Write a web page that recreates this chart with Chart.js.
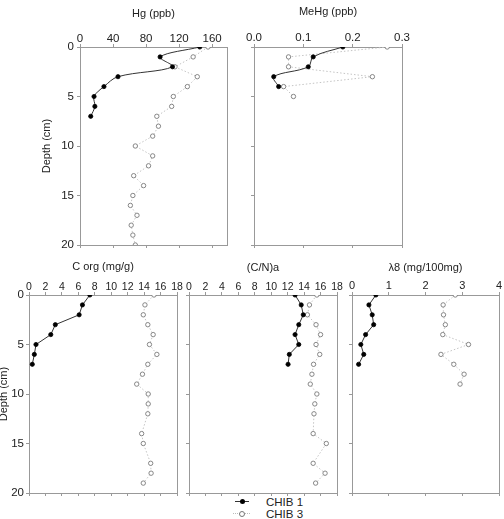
<!DOCTYPE html>
<html>
<head>
<meta charset="utf-8">
<script src="https://cdn.jsdelivr.net/npm/chart.js@4/dist/chart.umd.min.js"></script>
<style>
  body { margin: 0; background: #fff; }
  #wrap { position: relative; width: 504px; height: 519px; overflow: hidden; font-family: 'Liberation Sans', Arial, sans-serif; color: #222; }
  #wrap canvas { position: absolute; }
  .leg { position: absolute; }
  .leg-text { position: absolute; left: 266px; font-size: 11.5px; line-height: 12px; }
</style>
</head>
<body>
<div id="wrap">
  <div class="leg" style="left:235px;top:501px;width:14px;height:0;border-top:1px solid #333"></div>
  <div class="leg" style="left:240px;top:499px;width:5px;height:5px;border-radius:50%;background:#000"></div>
  <div class="leg-text" style="top:496px">CHIB 1</div>
  <div class="leg" style="left:233px;top:513px;width:17px;height:0;border-top:1px dotted #bbb"></div>
  <div class="leg" style="left:239px;top:511px;width:4px;height:4px;border-radius:50%;background:#fff;border:1px solid #777"></div>
  <div class="leg-text" style="top:508px">CHIB 3</div>
</div>
<script>
// depths (cm)
const depthChib1 = [0, 1, 2, 3, 4, 5, 6, 7];
const depthChib3 = [0, 1, 2, 3, 4, 5, 6, 7, 8, 9, 10, 11, 12, 13, 14, 15, 16, 17, 18, 19, 20];
const depthMeHg1 = [0, 1, 2, 3, 4];
const depthMeHg3 = [0, 1, 2, 3, 4, 5];
const depthOrg3 = [0, 1, 2, 3, 4, 5, 6, 7, 8, 9, 10, 11, 12, 14, 15, 17, 18, 19];
const depthLambda3 = [0, 1, 2, 3, 4, 5, 6, 7, 8, 9];

// Hg (ppb)
const hgChib1 = [145, 97, 112, 46, 29, 17, 18, 13];
const hgChib3 = [155, 137, 115, 142, 130, 113, 111, 93, 95, 88, 67, 88, 83, 65, 77, 64, 61, 69, 62, 64, 67];
// MeHg (ppb)
const meHgChib1 = [0.18, 0.12, 0.11, 0.04, 0.05];
const meHgChib3 = [0.27, 0.07, 0.07, 0.24, 0.06, 0.08];
// C org (mg/g)
const corgChib1 = [7.4, 6.5, 6.1, 3.2, 2.65, 0.85, 0.65, 0.4];
const corgChib3 = [15.2, 14.1, 13.9, 14.45, 15.1, 14.65, 15.55, 14.45, 13.8, 13.1, 14.5, 14.5, 14.45, 13.7, 13.9, 14.8, 14.85, 13.9];
// (C/N)a
const cnChib1 = [12.9, 13.65, 13.9, 13.35, 12.9, 13.35, 12.2, 12.05];
const cnChib3 = [15.55, 14.65, 14.4, 15.45, 16.0, 15.45, 15.9, 15.15, 14.95, 14.75, 15.55, 15.3, 15.2, 15.1, 16.7, 15.1, 16.55, 15.4];
// lambda 8 (mg/100mg)
const lambdaChib1 = [0.65, 0.46, 0.55, 0.59, 0.37, 0.24, 0.32, 0.18];
const lambdaChib3 = [2.81, 2.48, 2.49, 2.54, 2.47, 3.17, 2.42, 2.77, 3.05, 2.94];

const AXIS = '#999';
const INK = '#222';
const FONT = "'Liberation Sans', Arial, sans-serif";
const wrap = document.getElementById('wrap');

function pts(xs, depths) {
  return xs.map((v, i) => ({ x: v, y: depths[i] }));
}

function panel(cfg) {
  const { l, t, r, b } = cfg.area;
  const padL = cfg.padL, padT = cfg.padT, padR = 10, padB = 10;
  const canvas = document.createElement('canvas');
  canvas.width = (r - l) + padL + padR;
  canvas.height = (b - t) + padT + padB;
  canvas.style.left = (l - padL) + 'px';
  canvas.style.top = (t - padT) + 'px';
  wrap.appendChild(canvas);

  const grid = { drawOnChartArea: false, drawTicks: true, tickLength: 3, color: AXIS };
  const border = { display: true, color: AXIS, width: 1 };

  new Chart(canvas, {
    type: 'scatter',
    data: {
      datasets: [
        {
          label: 'CHIB 1',
          data: pts(cfg.chib1, cfg.depth1),
          showLine: true,
          borderColor: '#333',
          borderWidth: 1,
          tension: cfg.tension,
          pointRadius: 2.1,
          pointBackgroundColor: '#000',
          pointBorderColor: '#000',
          pointBorderWidth: 0.8
        },
        {
          label: 'CHIB 3',
          data: pts(cfg.chib3, cfg.depth3),
          showLine: true,
          borderColor: '#c4c4c4',
          borderDash: [1.5, 2],
          borderWidth: 1,
          tension: 0,
          pointRadius: 2.2,
          pointBackgroundColor: '#fff',
          pointBorderColor: '#7a7a7a',
          pointBorderWidth: 0.9
        }
      ]
    },
    options: {
      responsive: false,
      animation: false,
      layout: { padding: 0 },
      plugins: { legend: { display: false }, tooltip: { enabled: false } },
      scales: {
        x: {
          type: 'linear', position: 'top', min: cfg.min, max: cfg.max,
          afterFit: s => { s.height = padT; },
          ticks: {
            stepSize: cfg.step, includeBounds: false, color: INK,
            autoSkip: false, maxRotation: 0, minRotation: 0,
            font: { family: FONT, size: cfg.tickSize }, padding: cfg.xPad,
            callback: cfg.fmt || (v => v)
          },
          grid, border,
          title: {
            display: true, text: cfg.title, color: INK,
            font: { family: FONT, size: 11 }, padding: { top: cfg.titlePad, bottom: 0 }
          }
        },
        x2: {
          type: 'linear', position: 'bottom', min: cfg.min, max: cfg.max,
          afterFit: s => { s.height = padB; },
          ticks: { stepSize: cfg.step, includeBounds: false, display: false, autoSkip: false },
          grid, border
        },
        y: {
          type: 'linear', position: 'left', reverse: true, min: 0, max: 20,
          afterFit: s => { s.width = padL; },
          ticks: {
            display: cfg.yLabels, stepSize: 5, color: INK, autoSkip: false,
            font: { family: FONT, size: 11.5 }, padding: cfg.yPad
          },
          grid, border,
          title: {
            display: !!cfg.yTitle, text: 'Depth (cm)', color: INK,
            font: { family: FONT, size: 11 }, padding: { top: cfg.yTitlePad || 0, bottom: 0 }
          }
        },
        y2: {
          type: 'linear', position: 'right', reverse: true, min: 0, max: 20,
          afterFit: s => { s.width = padR; },
          ticks: { display: false },
          grid: { display: false },
          border
        }
      }
    }
  });
}

panel({
  area: { l: 80, t: 47, r: 227, b: 245 }, padL: 80, padT: 47,
  min: 0, max: 178, step: 40, title: 'Hg (ppb)', titlePad: 6.9, xPad: -1.5, tickSize: 11.5,
  yLabels: true, yPad: 3, yTitle: true, yTitlePad: 40.4, tension: 0.35,
  depth1: depthChib1, chib1: hgChib1, depth3: depthChib3, chib3: hgChib3
});
panel({
  area: { l: 254, t: 47, r: 402, b: 245 }, padL: 10, padT: 47,
  min: 0, max: 0.3, step: 0.1, title: 'MeHg (ppb)', titlePad: 5.7, xPad: -0.5, tickSize: 11.5,
  fmt: v => v.toFixed(1),
  yLabels: false, yPad: 2, tension: 0.35,
  depth1: depthMeHg1, chib1: meHgChib1, depth3: depthMeHg3, chib3: meHgChib3
});
panel({
  area: { l: 29, t: 295, r: 177, b: 493 }, padL: 40, padT: 40,
  min: 0, max: 18, step: 2, title: 'C org (mg/g)', titlePad: 5.1, xPad: -1, tickSize: 10.5,
  yLabels: true, yPad: 2, yTitle: true, yTitlePad: 8.4, tension: 0,
  depth1: depthChib1, chib1: corgChib1, depth3: depthOrg3, chib3: corgChib3
});
panel({
  area: { l: 189, t: 295, r: 337, b: 493 }, padL: 10, padT: 40,
  min: 0, max: 18, step: 2, title: '(C/N)a', titlePad: 6.1, xPad: -1, tickSize: 10.5,
  yLabels: false, yPad: 2, tension: 0,
  depth1: depthChib1, chib1: cnChib1, depth3: depthOrg3, chib3: cnChib3
});
panel({
  area: { l: 352, t: 295, r: 499, b: 493 }, padL: 10, padT: 40,
  min: 0, max: 4, step: 1, title: 'λ8 (mg/100mg)', titlePad: 6.4, xPad: -1, tickSize: 11,
  yLabels: false, yPad: 2, tension: 0,
  depth1: depthChib1, chib1: lambdaChib1, depth3: depthLambda3, chib3: lambdaChib3
});
</script>
</body>
</html>
